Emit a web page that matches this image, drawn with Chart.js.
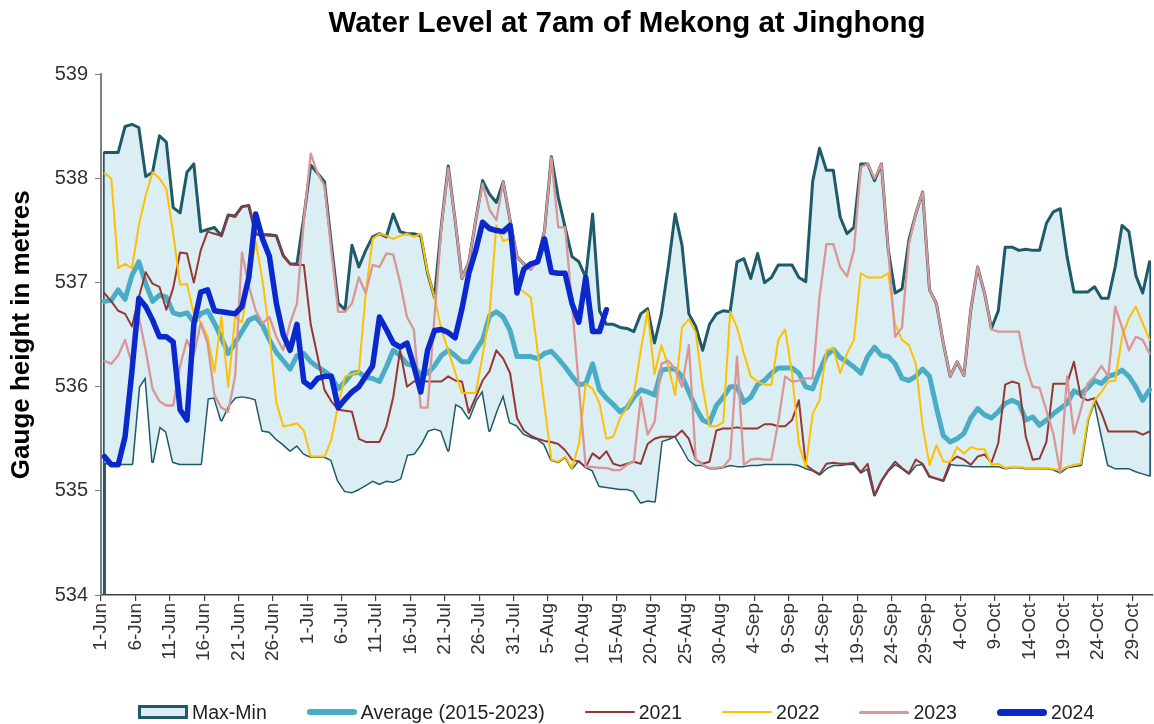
<!DOCTYPE html>
<html>
<head>
<meta charset="utf-8">
<title>Water Level at 7am of Mekong at Jinghong</title>
<script src="https://cdn.jsdelivr.net/npm/chart.js@4.4.1/dist/chart.umd.min.js"></script>
<style>
  body { margin: 0; background: #fff; }
  #wrap { position: relative; width: 1154px; height: 724px; }
  #legend {
    position: absolute; left: 138px; top: 700px; height: 24px;
    display: flex; align-items: center; white-space: nowrap;
    font-family: "Liberation Sans", Arial, sans-serif; font-size: 19.5px; color: #222;
  }
  .item { display: flex; align-items: center; margin-right: 40px; }
  .sw { width: 50px; margin-right: 4px; box-sizing: border-box; }
</style>
</head>
<body>
<div id="wrap">
  <canvas id="levelChart" width="1154" height="724"></canvas>
  <div id="legend"></div>
</div>
<script>
// categories: 1-Jun .. 31-Oct
const months = [['Jun', 30], ['Jul', 31], ['Aug', 31], ['Sep', 30], ['Oct', 31]];
const dates = [];
months.forEach(([m, n]) => { for (let d = 1; d <= n; d++) dates.push(d + '-' + m); });

const yTicks = [534, 535, 536, 537, 538, 539];

// Max / Min of 2015-2023 (m)
const maxLevel = [538.25,538.25,538.25,538.5,538.52,538.49,538.02,538.06,538.41,538.35,
537.72,537.67,538.06,538.14,537.49,537.51,537.53,537.45,537.65,537.64,
537.73,537.74,537.47,537.46,537.46,537.45,537.26,537.18,537.18,537.63,
538.13,538.05,537.97,537.37,536.8,536.74,537.36,537.15,537.31,537.44,
537.47,537.44,537.66,537.49,537.47,537.47,537.45,537.09,536.86,537.55,
538.12,537.6,537.04,537.2,537.6,537.98,537.85,537.77,537.97,537.6,
537.25,537.18,537.13,537.23,537.5,538.21,537.82,537.53,537.25,537.2,
537.05,537.66,536.73,536.6,536.6,536.57,536.56,536.53,536.7,536.75,
536.42,536.7,537.15,537.66,537.36,536.7,536.58,536.35,536.6,536.7,
536.73,536.72,537.2,537.23,537.04,537.28,537.0,537.05,537.17,537.17,
537.17,537.05,537.01,537.97,538.29,538.08,538.08,537.63,537.47,537.53,
538.14,538.14,537.98,538.14,537.31,536.9,536.94,537.41,537.66,537.87,
536.93,536.8,536.42,536.1,536.24,536.11,536.74,537.15,536.9,536.56,
536.73,537.34,537.34,537.31,537.32,537.31,537.31,537.57,537.68,537.71,
537.25,536.91,536.91,536.91,536.96,536.85,536.85,537.15,537.55,537.49,
537.07,536.9,537.2];

const minLevel = [535.27,535.26,535.26,535.26,535.26,536.0,536.1,535.28,535.62,535.57,
535.28,535.26,535.26,535.26,535.26,535.89,535.9,535.68,535.82,535.9,
535.91,535.9,535.88,535.58,535.57,535.5,535.45,535.39,535.44,535.36,
535.33,535.33,535.33,535.3,535.1,535.0,534.99,535.02,535.06,535.1,
535.07,535.1,535.09,535.12,535.35,535.36,535.45,535.58,535.6,535.58,
535.39,535.84,535.8,535.7,535.87,535.97,535.58,535.77,535.93,535.66,
535.63,535.55,535.52,535.5,535.45,535.3,535.28,535.33,535.22,535.3,
535.23,535.2,535.05,535.04,535.03,535.02,535.02,535.0,534.89,534.91,
534.9,535.48,535.5,535.53,535.42,535.3,535.25,535.25,535.22,535.22,
535.23,535.25,535.24,535.24,535.25,535.25,535.26,535.26,535.26,535.26,
535.26,535.25,535.22,535.2,535.16,535.22,535.25,535.25,535.26,535.26,
535.18,535.22,534.96,535.1,535.2,535.26,535.22,535.17,535.25,535.26,
535.14,535.12,535.1,535.26,535.25,535.25,535.24,535.24,535.24,535.24,
535.24,535.22,535.23,535.23,535.22,535.22,535.22,535.22,535.21,535.18,
535.23,535.24,535.25,535.68,535.87,535.55,535.25,535.22,535.22,535.22,
535.19,535.17,535.15];

const avgLevel = [536.82,536.83,536.93,536.84,537.07,537.2,536.99,536.82,536.88,536.86,
536.71,536.69,536.71,536.62,536.7,536.73,536.61,536.47,536.32,536.42,
536.53,536.64,536.67,536.59,536.45,536.33,536.25,536.17,536.3,536.32,
536.24,536.19,536.15,536.1,535.98,536.05,536.13,536.14,536.09,536.08,
536.05,536.19,536.35,536.3,536.22,536.2,536.11,536.13,536.2,536.3,
536.35,536.3,536.24,536.24,536.35,536.45,536.68,536.72,536.67,536.54,
536.29,536.29,536.29,536.27,536.32,536.34,536.27,536.19,536.1,536.02,
536.03,536.22,535.97,535.89,535.83,535.76,535.8,535.9,535.97,535.95,
535.92,536.16,536.17,536.17,536.1,535.95,535.8,535.68,535.65,535.82,
535.9,536.0,536.0,535.85,535.9,536.02,536.06,536.13,536.18,536.18,
536.18,536.13,536.0,535.98,536.15,536.3,536.36,536.28,536.24,536.19,
536.13,536.29,536.38,536.3,536.29,536.22,536.08,536.06,536.1,536.17,
536.1,535.8,535.53,535.47,535.5,535.55,535.7,535.79,535.73,535.7,
535.76,535.84,535.87,535.84,535.68,535.71,535.63,535.68,535.74,535.79,
535.84,535.96,535.93,535.99,536.06,536.03,536.1,536.12,536.16,536.1,
536.0,535.87,535.97];

const y2021 = [536.9,536.82,536.73,536.7,536.58,536.86,537.1,536.99,536.96,536.74,
536.95,537.29,537.28,537.0,537.31,537.49,537.47,537.45,537.65,537.63,
537.73,537.74,537.46,537.46,537.45,537.45,537.26,537.18,537.17,537.17,
536.6,536.29,535.97,535.86,535.78,535.77,535.76,535.5,535.47,535.47,
535.47,535.62,535.9,536.35,536.0,536.05,536.06,536.05,536.05,536.05,
536.1,536.06,536.05,535.75,535.9,536.06,536.15,536.35,536.27,536.13,
535.7,535.58,535.53,535.5,535.48,535.47,535.45,535.39,535.3,535.28,
535.23,535.36,535.31,535.38,535.26,535.24,535.26,535.28,535.26,535.45,
535.5,535.52,535.52,535.52,535.58,535.5,535.3,535.26,535.28,535.58,
535.6,535.6,535.61,535.6,535.6,535.6,535.64,535.64,535.62,535.62,
535.68,535.87,535.25,535.2,535.16,535.26,535.27,535.26,535.26,535.27,
535.18,535.26,534.96,535.1,535.2,535.28,535.22,535.17,535.3,535.26,
535.14,535.12,535.1,535.28,535.33,535.3,535.25,535.33,535.35,535.27,
535.46,536.02,536.05,536.03,535.52,535.3,535.31,535.47,536.03,536.03,
536.03,536.24,535.9,535.87,535.89,535.75,535.57,535.57,535.57,535.57,
535.57,535.54,535.57];

const y2022 = [538.05,538.0,537.14,537.18,537.14,537.55,537.84,538.06,538.0,537.9,
537.47,536.98,536.99,536.7,536.62,536.48,536.14,536.67,536.0,536.67,
536.62,537.0,537.39,537.02,536.5,535.85,535.62,535.63,535.65,535.58,
535.33,535.33,535.33,535.49,535.83,536.1,536.12,536.14,536.9,537.42,
537.47,537.45,537.42,537.45,537.47,537.44,537.47,537.1,536.86,536.55,
536.35,536.14,535.94,535.94,535.94,536.3,536.7,537.55,537.4,537.42,
536.96,536.91,536.86,536.34,535.82,535.3,535.28,535.33,535.22,535.45,
536.03,535.98,535.84,535.5,535.52,535.7,535.8,535.93,536.35,536.73,
536.12,536.4,536.2,535.92,536.57,536.65,536.52,536.0,535.62,535.62,
535.66,536.72,536.57,536.32,536.1,536.05,536.02,536.02,536.45,536.55,
536.13,535.45,535.23,535.74,535.87,536.35,536.37,536.13,536.32,536.45,
537.09,537.05,537.05,537.05,537.09,536.6,536.45,536.4,536.22,535.62,
535.25,535.44,535.28,535.28,535.42,535.36,535.42,535.4,535.4,535.25,
535.26,535.22,535.23,535.23,535.22,535.22,535.22,535.22,535.21,535.2,
535.23,535.25,535.26,535.68,535.87,535.95,536.05,536.06,536.48,536.66,
536.77,536.61,536.45];

const y2023 = [536.25,536.22,536.3,536.45,536.22,536.67,536.35,535.98,535.86,535.82,
535.82,536.2,536.45,536.3,536.61,536.42,535.92,535.8,535.76,536.1,
537.29,536.97,536.73,536.61,536.67,536.48,536.35,536.61,536.8,537.6,
538.24,538.05,537.93,537.31,536.72,536.72,536.8,537.05,536.9,537.17,
537.15,537.28,537.27,537.0,536.67,536.55,535.8,535.8,536.67,537.53,
538.1,537.6,537.04,537.2,537.6,537.95,537.7,537.6,537.97,537.6,
537.25,537.18,537.13,537.2,537.5,538.2,537.53,537.53,536.8,536.0,
535.23,535.23,535.22,535.22,535.2,535.2,535.25,535.28,535.9,535.54,
535.66,536.22,536.25,536.17,536.0,536.4,535.3,535.25,535.22,535.22,
535.23,535.31,536.29,535.25,535.3,535.31,535.3,535.3,535.66,536.1,
536.05,536.06,536.08,536.08,536.86,537.37,537.37,537.15,537.06,537.31,
538.11,538.14,538.0,538.14,537.31,536.48,536.57,537.37,537.66,537.87,
536.93,536.8,536.42,536.1,536.24,536.11,536.74,537.15,536.9,536.55,
536.53,536.53,536.53,536.53,536.2,536.0,535.99,535.77,535.55,535.18,
536.1,535.55,535.78,536.03,536.1,536.2,536.1,536.77,536.57,536.35,
536.48,536.45,536.32];

// 2024 is only available up to 13-Aug
const y2024 = [535.33,535.25,535.25,535.52,536.15,536.85,536.77,536.64,536.48,536.48,
536.43,535.78,535.68,536.6,536.91,536.93,536.73,536.72,536.71,536.7,
536.77,537.05,537.66,537.42,537.25,536.8,536.5,536.35,536.6,536.05,
536.0,536.08,536.1,536.1,535.8,535.88,535.95,536.0,536.1,536.2,
536.67,536.55,536.42,536.38,536.42,536.2,535.95,536.35,536.54,536.55,
536.52,536.47,536.75,537.09,537.31,537.58,537.52,537.5,537.49,537.55,
536.9,537.13,537.18,537.2,537.42,537.1,537.09,537.09,536.8,536.62,
537.05,536.53,536.53,536.74];

const edgeColor = '#1F5A6A';
const bandFill = '#DAEEF3';
const avgColor = '#4BACC6';
const col2021 = '#953735';
const col2022 = '#FFC000';
const col2023 = '#D99694';
const col2024 = '#0A28CC';
const fontFamily = '"Liberation Sans", Arial, sans-serif';

// left and right edges of the max-min band
const bandEdges = {
    id: 'bandEdges',
    afterDatasetDraw(chart, args) {
        if (args.index !== 6) return;
        const { ctx, chartArea, scales: { x, y } } = chart;
        const last = maxLevel.length - 1;
        ctx.save();
        ctx.strokeStyle = edgeColor;
        ctx.lineWidth = 3;
        ctx.beginPath();
        ctx.moveTo(x.getPixelForValue(0), y.getPixelForValue(maxLevel[0]));
        ctx.lineTo(x.getPixelForValue(0), chartArea.bottom);
        ctx.moveTo(x.getPixelForValue(last), y.getPixelForValue(maxLevel[last]));
        ctx.lineTo(x.getPixelForValue(last), y.getPixelForValue(minLevel[last]));
        ctx.stroke();
        ctx.restore();
    }
};

function line(label, data, color, width, order) {
    return {
        label: label, data: data, borderColor: color, backgroundColor: color,
        borderWidth: width, pointRadius: 0, fill: false, order: order,
        borderJoinStyle: 'round', borderCapStyle: 'round', tension: 0
    };
}

const ctx = document.getElementById('levelChart').getContext('2d');
const chart = new Chart(ctx, {
    type: 'line',
    data: {
        labels: dates,
        datasets: [
            line('2024', y2024, col2024, 5.5, 0),
            line('2023', y2023, col2023, 2.3, 1),
            line('2022', y2022, col2022, 2, 2),
            line('2021', y2021, col2021, 2, 3),
            line('Average (2015-2023)', avgLevel, avgColor, 5, 4),
            Object.assign(line('Max', maxLevel, edgeColor, 3, 5), { fill: '+1', backgroundColor: bandFill }),
            line('Min', minLevel, edgeColor, 3, 6)
        ]
    },
    options: {
        responsive: false,
        animation: false,
        devicePixelRatio: 1,
        layout: { padding: { left: 0, right: 1, top: 0, bottom: 29 } },
        plugins: {
            legend: { display: false },
            tooltip: { enabled: false },
            title: {
                display: true,
                fullSize: false,
                text: 'Water Level at 7am of Mekong at Jinghong',
                color: '#000',
                font: { family: fontFamily, size: 29.5, weight: 'bold' },
                padding: { top: 6, bottom: 33 }
            }
        },
        scales: {
            x: {
                offset: true,
                grid: {
                    offset: true,
                    drawOnChartArea: false,
                    tickLength: 6,
                    lineWidth: 1.2,
                    color: c => (c.index % 5 === 0 ? '#404040' : 'rgba(0,0,0,0)')
                },
                border: { color: '#404040', width: 1.5 },
                ticks: {
                    autoSkip: false,
                    maxRotation: 90,
                    minRotation: 90,
                    padding: 2,
                    labelOffset: -3.4,
                    color: '#333',
                    font: { family: fontFamily, size: 19 },
                    callback: (v, i) => (i % 5 === 0 ? dates[i] : '')
                },
                afterFit: s => { s.height = 100; s.paddingLeft = 0; s.paddingRight = 0; }
            },
            y: {
                min: yTicks[0],
                max: yTicks[yTicks.length - 1],
                afterBuildTicks: s => { s.ticks = yTicks.map(v => ({ value: v })); },
                grid: { drawOnChartArea: false, tickLength: 6, color: '#7f7f7f' },
                border: { color: '#7f7f7f', width: 2 },
                ticks: { padding: 7, color: '#333', font: { family: fontFamily, size: 20 } },
                title: {
                    display: true,
                    text: 'Gauge height in metres',
                    color: '#000',
                    font: { family: fontFamily, size: 26, weight: 'bold' },
                    padding: { top: 6, bottom: 0 }
                },
                afterFit: s => { s.width = 101; }
            }
        }
    },
    plugins: [bandEdges]
});

// legend
const legendItems = [
    { label: 'Max-Min', box: true },
    { label: 'Average (2015-2023)', color: avgColor, h: 6 },
    { label: '2021', color: col2021, h: 2.5 },
    { label: '2022', color: col2022, h: 2.5 },
    { label: '2023', color: col2023, h: 3 },
    { label: '2024', color: col2024, h: 7 }
];
const legend = document.getElementById('legend');
legendItems.forEach(it => {
    const item = document.createElement('div');
    item.className = 'item';
    const sw = document.createElement('span');
    sw.className = 'sw';
    if (it.box) {
        sw.style.height = '14px';
        sw.style.border = '3px solid ' + edgeColor;
        sw.style.background = bandFill;
    } else {
        sw.style.height = it.h + 'px';
        sw.style.background = it.color;
        sw.style.borderRadius = (it.h / 2) + 'px';
    }
    const txt = document.createElement('span');
    txt.textContent = it.label;
    item.appendChild(sw);
    item.appendChild(txt);
    legend.appendChild(item);
});
</script>
</body>
</html>
